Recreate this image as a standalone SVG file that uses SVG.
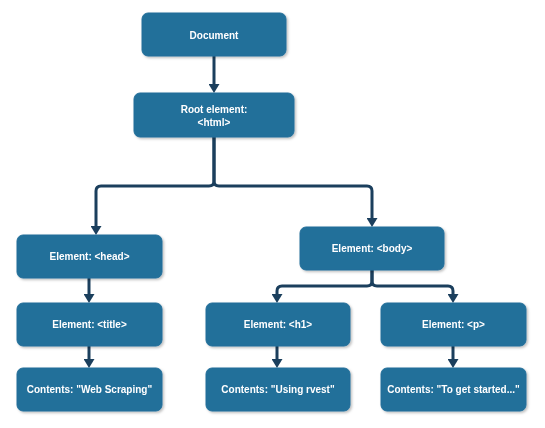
<svg xmlns="http://www.w3.org/2000/svg" width="545" height="428" viewBox="0 0 545 428">
<defs>
<style>
.box{fill:#236f9a;stroke:#236f9a;stroke-width:1}
.lbl{font-family:"Liberation Sans",Arial,Helvetica,sans-serif;font-weight:bold;font-size:10px;fill:#ffffff;text-anchor:middle}
.con{fill:none;stroke:#1b3f5d;stroke-width:3;marker-end:url(#ah)}
</style>
<filter id="sh" x="-10%" y="-10%" width="130%" height="140%">
<feDropShadow dx="1.5" dy="1.5" stdDeviation="1" flood-color="#000" flood-opacity="0.25"/>
</filter>
<marker id="ah" viewBox="0 0 10 10" refX="0" refY="5" markerWidth="9" markerHeight="11" markerUnits="userSpaceOnUse" orient="auto" preserveAspectRatio="none">
<path d="M0,0 L10,5 L0,10 z" fill="#1b3f5d"/>
</marker>
</defs>
<rect width="545" height="428" fill="#ffffff"/>
<g id="connectors">
<path class="con" d="M214,56 V84"/>
<path class="con" d="M214,137 V181 Q214,186 209,186 H101 Q96,186 96,191 V226"/>
<path class="con" d="M214,137 V181 Q214,186 219,186 H367 Q372,186 372,191 V218"/>
<path class="con" d="M372,270 V281 Q372,286 367,286 H282 Q277,286 277,291 V294"/>
<path class="con" d="M372,270 V281 Q372,286 377,286 H448 Q453,286 453,291 V294"/>
<path class="con" d="M89,278 V294"/>
<path class="con" d="M89,346 V359"/>
<path class="con" d="M277,346 V359"/>
<path class="con" d="M453,346 V359"/>
</g>
<g id="document" filter="url(#sh)"><rect class="box" x="142" y="13" width="144" height="43" rx="6"/><text class="lbl" x="214" y="38.5">Document</text></g>
<g id="root" filter="url(#sh)"><rect class="box" x="134" y="93" width="160" height="44" rx="6"/><text class="lbl" x="214" y="112.5">Root element:</text><text class="lbl" x="214" y="125.5">&lt;html&gt;</text></g>
<g id="head" filter="url(#sh)"><rect class="box" x="17" y="235" width="145" height="43" rx="6"/><text class="lbl" x="89.5" y="260">Element: &lt;head&gt;</text></g>
<g id="title" filter="url(#sh)"><rect class="box" x="17" y="303" width="145" height="43" rx="6"/><text class="lbl" x="89.5" y="328">Element: &lt;title&gt;</text></g>
<g id="contents-title" filter="url(#sh)"><rect class="box" x="17" y="368" width="145" height="43" rx="6"/><text class="lbl" x="89.5" y="393">Contents: "Web Scraping"</text></g>
<g id="body" filter="url(#sh)"><rect class="box" x="300" y="227" width="144" height="43" rx="6"/><text class="lbl" x="372" y="252">Element: &lt;body&gt;</text></g>
<g id="h1" filter="url(#sh)"><rect class="box" x="206" y="303" width="144" height="43" rx="6"/><text class="lbl" x="278" y="328">Element: &lt;h1&gt;</text></g>
<g id="p" filter="url(#sh)"><rect class="box" x="381" y="303" width="145" height="43" rx="6"/><text class="lbl" x="453.5" y="328">Element: &lt;p&gt;</text></g>
<g id="contents-h1" filter="url(#sh)"><rect class="box" x="206" y="368" width="144" height="43" rx="6"/><text class="lbl" x="278" y="393">Contents: "Using rvest"</text></g>
<g id="contents-p" filter="url(#sh)"><rect class="box" x="381" y="368" width="145" height="43" rx="6"/><text class="lbl" x="453.5" y="393">Contents: "To get started..."</text></g>
</svg>
